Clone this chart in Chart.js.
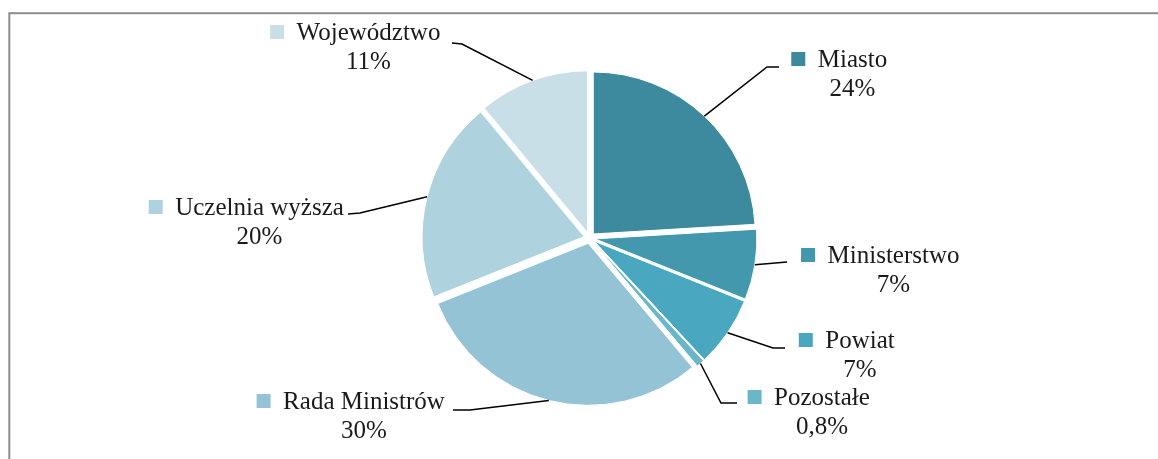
<!DOCTYPE html>
<html><head><meta charset="utf-8">
<script src="https://cdn.jsdelivr.net/npm/chart.js@4.4.0/dist/chart.umd.min.js"></script>
<style>html,body{margin:0;padding:0;background:#fff;overflow:hidden}</style>
</head><body>
<canvas id="c" width="1158" height="459"></canvas>
<script>
const categories = ['Miasto','Ministerstwo','Powiat','Pozostałe','Rada Ministrów','Uczelnia wyższa','Województwo'];
const shares = [24, 7, 7, 0.8, 30, 20, 11];
const sliceColors = ['#3d8a9f','#4398ae','#49a7bf','#6cb6ca','#93c3d4','#aed2de','#c8dfe7'];

// label placement (layout only)
const labelLayout = [
  {cx:852.5, base:67,  elbow:[767,67],  end:[779,67]},
  {cx:893.5, base:263, elbow:null,      end:[787,262]},
  {cx:860,   base:348, elbow:[773,348], end:[785,348]},
  {cx:822,   base:405, elbow:[721,403], end:[737,403]},
  {cx:364,   base:409, elbow:[470,410], end:[453,410]},
  {cx:259.5, base:215, elbow:[360,213], end:[348,214]},
  {cx:368.5, base:40,  elbow:[462,44],  end:[452,43]}
];
const explode = 5.5;
const FONT = '25px "Liberation Serif", "Times New Roman", serif';

const pieLabels = {
  id: 'pieLabels',
  beforeDraw(chart) {
    const ctx = chart.ctx;
    ctx.save();
    ctx.fillStyle = '#fff';
    ctx.fillRect(0, 0, chart.width, chart.height);
    ctx.strokeStyle = '#8e8e8e';
    ctx.lineWidth = 2;
    ctx.strokeRect(9.3, 13.2, 1300, 600);
    ctx.restore();
  },
  beforeDatasetDraw(chart, args) {
    const ctx = chart.ctx;
    args.meta.data.forEach(arc => {
      const mid = (arc.startAngle + arc.endAngle) / 2;
      ctx.save();
      ctx.translate(Math.cos(mid) * explode, Math.sin(mid) * explode);
      arc.draw(ctx, chart.chartArea);
      ctx.restore();
    });
    return false;
  },
  afterDatasetsDraw(chart) {
    const ctx = chart.ctx;
    const meta = chart.getDatasetMeta(0);
    ctx.save();
    meta.data.forEach((arc, i) => {
      const L = labelLayout[i];
      const mid = (arc.startAngle + arc.endAngle) / 2;
      const r = arc.outerRadius + explode;
      const sx = arc.x + Math.cos(mid) * r;
      const sy = arc.y + Math.sin(mid) * r;
      ctx.strokeStyle = '#000';
      ctx.lineWidth = 1.5;
      ctx.beginPath();
      ctx.moveTo(sx, sy);
      if (L.elbow) ctx.lineTo(L.elbow[0], L.elbow[1]);
      ctx.lineTo(L.end[0], L.end[1]);
      ctx.stroke();

      ctx.font = FONT;
      ctx.fillStyle = '#1a1a1a';
      ctx.textBaseline = 'alphabetic';
      const name = categories[i];
      const w = ctx.measureText(name).width;
      const left = L.cx - w / 2;
      ctx.textAlign = 'left';
      ctx.fillText(name, left, L.base);
      ctx.fillStyle = sliceColors[i];
      ctx.fillRect(left - 12.5 - 14, L.base - 15, 14, 14);
      ctx.fillStyle = '#1a1a1a';
      ctx.textAlign = 'center';
      const pct = String(shares[i]).replace('.', ',') + '%';
      ctx.fillText(pct, L.cx, L.base + 29);
    });
    ctx.restore();
  }
};

new Chart(document.getElementById('c'), {
  type: 'pie',
  data: {
    labels: categories,
    datasets: [{
      data: shares,
      backgroundColor: sliceColors,
      borderColor: '#ffffff',
      borderWidth: 1,
      offset: 0
    }]
  },
  options: {
    responsive: false,
    animation: false,
    radius: 162,
    layout: { padding: { left: 21, right: 0, top: 17, bottom: 0 } },
    plugins: { legend: { display: false }, tooltip: { enabled: false } }
  },
  plugins: [pieLabels]
});
</script>
</body></html>
